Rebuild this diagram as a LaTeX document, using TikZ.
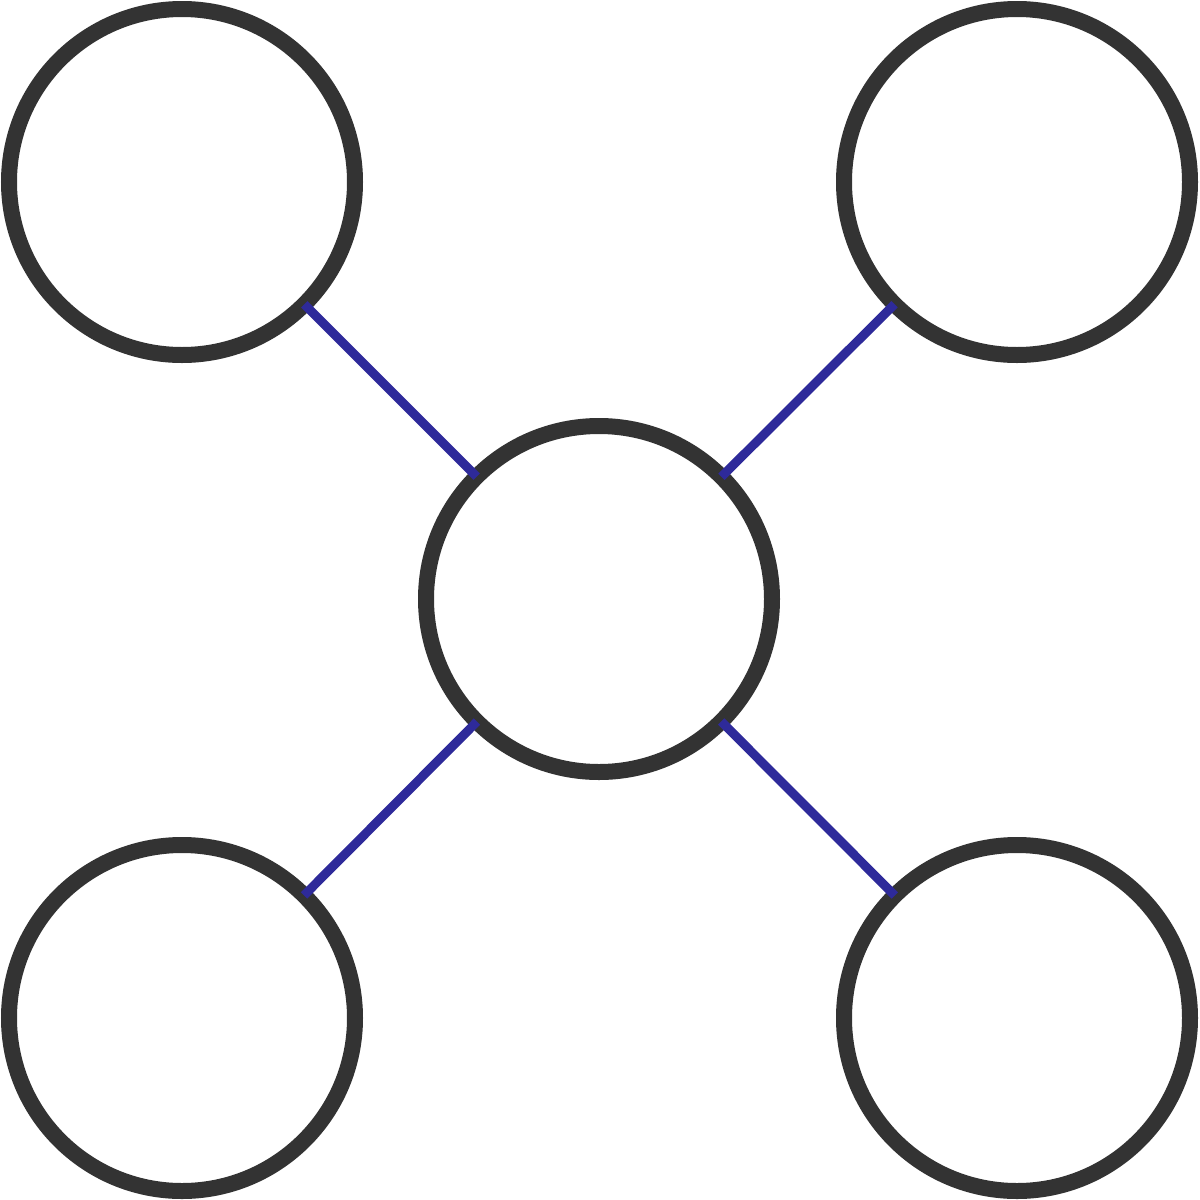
\documentclass[tikz,border=0pt]{standalone}
\begin{document}
\begin{tikzpicture}[x=1pt,y=-1pt,
  ring/.style={circle,draw=ringgray,fill=white,line width=16pt,minimum size=346pt,inner sep=0pt,outer sep=0pt},
  link/.style={draw=linkblue,line width=9pt}]
\definecolor{ringgray}{HTML}{333333}
\definecolor{linkblue}{HTML}{2E2A9A}
\useasboundingbox (0,0) rectangle (1200,1200);
\node[ring] (c) at (599,599) {};
\node[ring] (tl) at (182,182) {};
\node[ring] (tr) at (1017,182) {};
\node[ring] (bl) at (182,1018) {};
\node[ring] (br) at (1017,1018) {};
\begin{scope}[on background layer/.try]
\end{scope}
\draw[link] (tl) -- (c);
\draw[link] (tr) -- (c);
\draw[link] (bl) -- (c);
\draw[link] (br) -- (c);
\end{tikzpicture}
\end{document}
